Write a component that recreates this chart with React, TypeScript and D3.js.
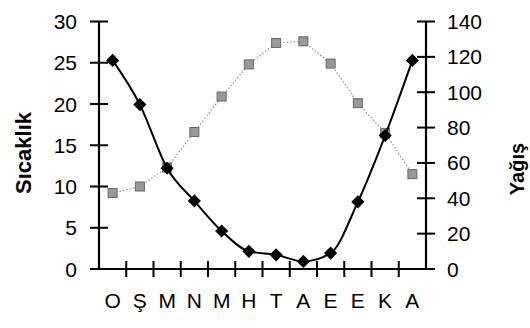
import React from "react";
import * as d3 from "d3";

// Monthly climate data (months abbreviated in Turkish)
const months = ["O", "Ş", "M", "N", "M", "H", "T", "A", "E", "E", "K", "A"];
const temperature = [9.2, 10.0, 12.3, 16.6, 20.9, 24.8, 27.4, 27.6, 24.9, 20.1, 16.5, 11.5];
const precipitation = [118, 93, 57, 38.5, 21.5, 10, 8, 4.3, 9, 38, 75.5, 118];
const tempTicks = [0, 5, 10, 15, 20, 25, 30];
const precipTicks = [0, 20, 40, 60, 80, 100, 120, 140];

const W = 530;
const H = 328;
const left = 99;
const right = 426;
const top = 21.5;
const bottom = 269;
const FONT = "'Liberation Sans', Arial, Helvetica, sans-serif";

export default function App() {
  const x = d3.scaleBand<number>().domain(d3.range(months.length)).range([left, right]);
  const yT = d3.scaleLinear().domain([0, 30]).range([bottom, top]);
  const yP = d3.scaleLinear().domain([0, 140]).range([bottom, top]);
  const cx = (i: number) => (x(i) as number) + x.bandwidth() / 2;

  const tempLine = d3.line<number>().x((_, i) => cx(i)).y((d) => yT(d))(temperature) as string;
  const precipLine = d3
    .line<number>()
    .x((_, i) => cx(i))
    .y((d) => yP(d))
    .curve(d3.curveMonotoneX)(precipitation) as string;

  const diamond = d3.symbol().type(d3.symbolDiamond2).size(110)() as string;
  const boundaries = d3.range(months.length + 1).map((i) => left + i * x.step());

  return (
    <svg
      width={W}
      height={H}
      style={{ position: "absolute", left: 0, top: 0, background: "#fff" }}
      fontFamily={FONT}
    >
      {/* temperature series: grey squares on dotted line */}
      <path d={tempLine} fill="none" stroke="#888" strokeWidth={1.1} strokeDasharray="1.5,2" />
      {temperature.map((d, i) => (
        <rect
          key={"t" + i}
          x={cx(i) - 4.5}
          y={yT(d) - 4.5}
          width={9}
          height={9}
          fill="#999"
          stroke="#666"
          strokeWidth={1}
        />
      ))}

      {/* precipitation series: black diamonds on solid line */}
      <path d={precipLine} fill="none" stroke="#000" strokeWidth={2} />
      {precipitation.map((d, i) => (
        <path key={"p" + i} d={diamond} transform={`translate(${cx(i)},${yP(d)})`} fill="#000" />
      ))}

      {/* axes */}
      <line x1={left} x2={left} y1={top} y2={bottom} stroke="#000" strokeWidth={2.2} />
      <line x1={right} x2={right} y1={top} y2={bottom} stroke="#000" strokeWidth={2.2} />
      <line x1={left} x2={right} y1={bottom} y2={bottom} stroke="#000" strokeWidth={2.2} />

      {tempTicks.map((t) => (
        <g key={"lt" + t}>
          <line x1={left - 9} x2={left + 9} y1={yT(t)} y2={yT(t)} stroke="#000" strokeWidth={2} />
          <text x={77} y={yT(t)} dy="0.36em" textAnchor="end" fontSize={21}>
            {t}
          </text>
        </g>
      ))}
      {precipTicks.map((t) => (
        <g key={"rt" + t}>
          <line x1={right - 9} x2={right + 9} y1={yP(t)} y2={yP(t)} stroke="#000" strokeWidth={2} />
          <text x={447} y={yP(t)} dy="0.36em" textAnchor="start" fontSize={21}>
            {t}
          </text>
        </g>
      ))}
      {boundaries.slice(1, -1).map((b, i) => (
        <line key={"xt" + i} x1={b} x2={b} y1={bottom - 8} y2={bottom + 8} stroke="#000" strokeWidth={2} />
      ))}
      {months.map((m, i) => (
        <text key={"m" + i} x={cx(i)} y={308} textAnchor="middle" fontSize={21}>
          {m}
        </text>
      ))}

      {/* axis titles */}
      <text
        transform="translate(31,153) rotate(-90)"
        textAnchor="middle"
        fontSize={22}
        fontWeight="bold"
      >
        Sıcaklık
      </text>
      <text
        transform="translate(524,169) rotate(-90)"
        textAnchor="middle"
        fontSize={20}
        fontWeight="bold"
      >
        Yağış
      </text>
    </svg>
  );
}
